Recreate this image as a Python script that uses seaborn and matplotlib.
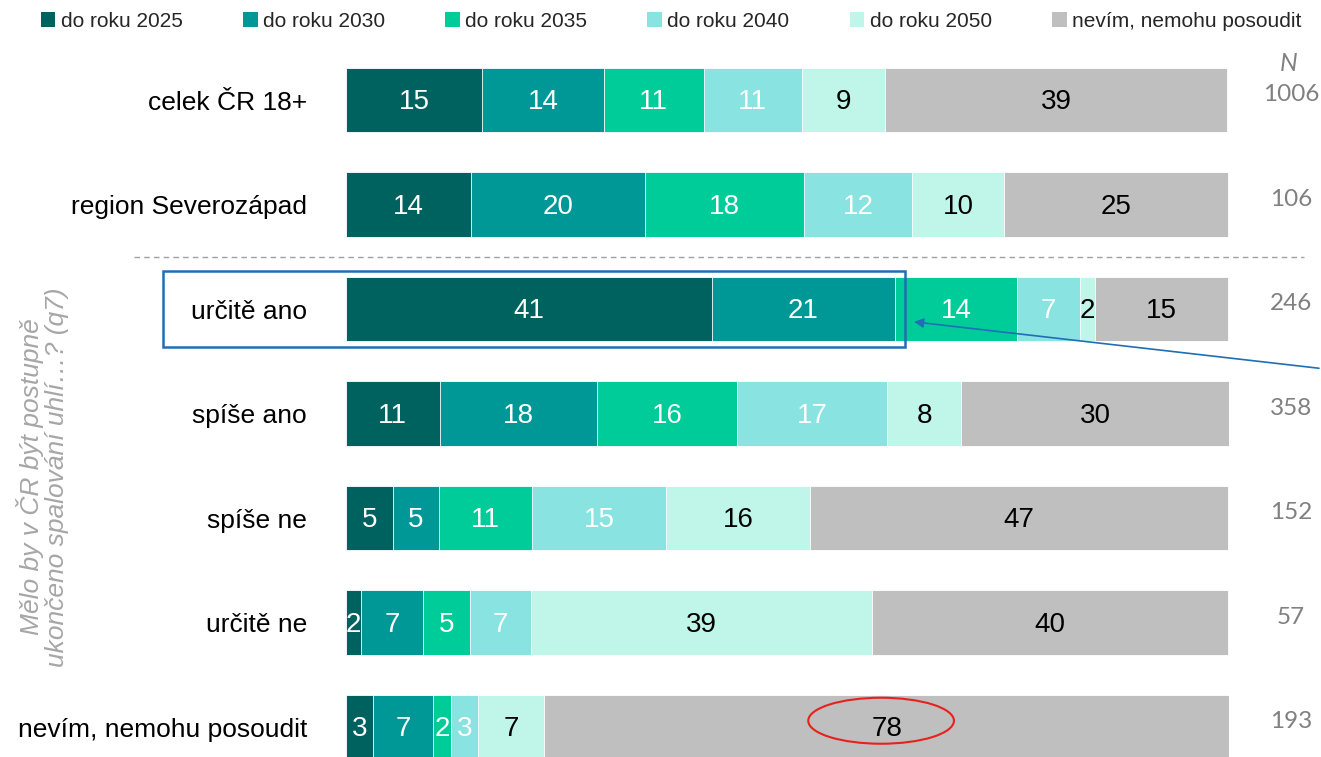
import matplotlib
matplotlib.use("Agg")
import matplotlib.pyplot as plt
from matplotlib.patches import Rectangle, Ellipse, Patch
import seaborn as sns
import pandas as pd
import numpy as np

categories = ["celek ČR 18+", "region Severozápad", "určitě ano", "spíše ano",
              "spíše ne", "určitě ne", "nevím, nemohu posoudit"]
series_names = ["do roku 2025", "do roku 2030", "do roku 2035", "do roku 2040",
                "do roku 2050", "nevím, nemohu posoudit"]
v2025 = [15.4, 14.2, 41.4, 10.6, 5.3, 1.7, 3.1]
v2030 = [13.8, 19.7, 20.8, 17.8, 5.2, 7.0, 6.8]
v2035 = [11.3, 18.0, 13.8, 15.9, 10.6, 5.3, 2.0]
v2040 = [11.1, 12.2, 7.1, 17.0, 15.1, 7.0, 3.1]
v2050 = [9.4, 10.4, 1.7, 8.4, 16.4, 38.6, 7.4]
vnevim = [38.8, 25.4, 15.1, 30.4, 47.3, 40.3, 77.7]
n_counts = [1006, 106, 246, 358, 152, 57, 193]

colors = ["#00625f", "#009896", "#00cc99", "#88e3e1", "#c0f6e9", "#bfbfbf"]
text_colors = ["white", "white", "white", "white", "black", "black"]

sns.set_theme(style="white")
plt.rcParams["font.family"] = ["Liberation Sans", "DejaVu Sans"]

df = pd.DataFrame({"kategorie": categories})
series = [v2025, v2030, v2035, v2040, v2050, vnevim]
for name, vals in zip(series_names, series):
    df[name] = vals
cum = df[series_names].cumsum(axis=1)

fig = plt.figure(figsize=(13.21, 7.57), dpi=100)
ax = fig.add_axes([346 / 1321, 0, 883 / 1321, 1])

# stacked bars: draw cumulative totals from the longest down
for i in range(len(series_names) - 1, -1, -1):
    sns.barplot(x=cum[series_names[i]], y=df["kategorie"], orient="h",
                color=colors[i], width=0.62, edgecolor="white", linewidth=0.6,
                saturation=1, ax=ax)

# segment labels
for i, name in enumerate(series_names):
    left = cum[name] - df[name]
    for j, (l, w) in enumerate(zip(left, df[name])):
        ax.text(l + w / 2, j + 0.02, f"{w:.0f}", ha="center", va="center",
                fontsize=20, color=text_colors[i])

ax.set_xlim(0, 100)
ax.set_ylim(6.287, -0.957)
ax.set_xlabel("")
ax.set_ylabel("")
ax.set_xticks([])
ax.tick_params(axis="y", length=0, pad=28, labelsize=19, labelcolor="black")
for s in ax.spines.values():
    s.set_visible(False)

# N column
ax.text(106.8, -0.35, "N", ha="center", va="center", fontsize=18,
        style="italic", color="#808080", clip_on=False, family="Lato")
for j, n in enumerate(n_counts):
    ax.text(107.0, j - 0.05, str(n), ha="center", va="center", fontsize=17.5,
            color="#808080", clip_on=False, family="Lato")

# dashed separator
ax.plot([-24, 108.5], [1.5, 1.5], ls=(0, (4, 3)), color="#a0a0a0", lw=1,
        clip_on=False)

# rotated group label
fig.text(0.032, 0.37, "Mělo by v ČR být postupně\nukončeno spalování uhlí…? (q7)",
         rotation=90, ha="center", va="center", fontsize=19, style="italic",
         color="#a6a6a6", linespacing=1.05)

# highlight annotations
ax.add_patch(Rectangle((-20.7, 2 - 0.36), 84.0, 0.72, fill=False,
                       edgecolor="#1f6fb5", lw=1.8, clip_on=False))
ax.annotate("", xy=(64.0, 2.12), xytext=(110.5, 2.57),
            arrowprops=dict(arrowstyle="-|>", color="#1f6fb5", lw=1.2,
                            mutation_scale=14),
            annotation_clip=False)
ax.add_patch(Ellipse((60.6, 5.94), 16.5, 0.44, fill=False, edgecolor="#e8211d",
                     lw=1.5, clip_on=False))

# legend
handles = [Patch(facecolor=c, edgecolor="none") for c in colors]
fig.legend(handles, series_names, loc="center", bbox_to_anchor=(0.508, 0.972),
           ncol=6, frameon=False, fontsize=15, handlelength=0.7,
           handleheight=0.7, handletextpad=0.25, columnspacing=2.9)

fig.savefig("out.png", dpi=100)
